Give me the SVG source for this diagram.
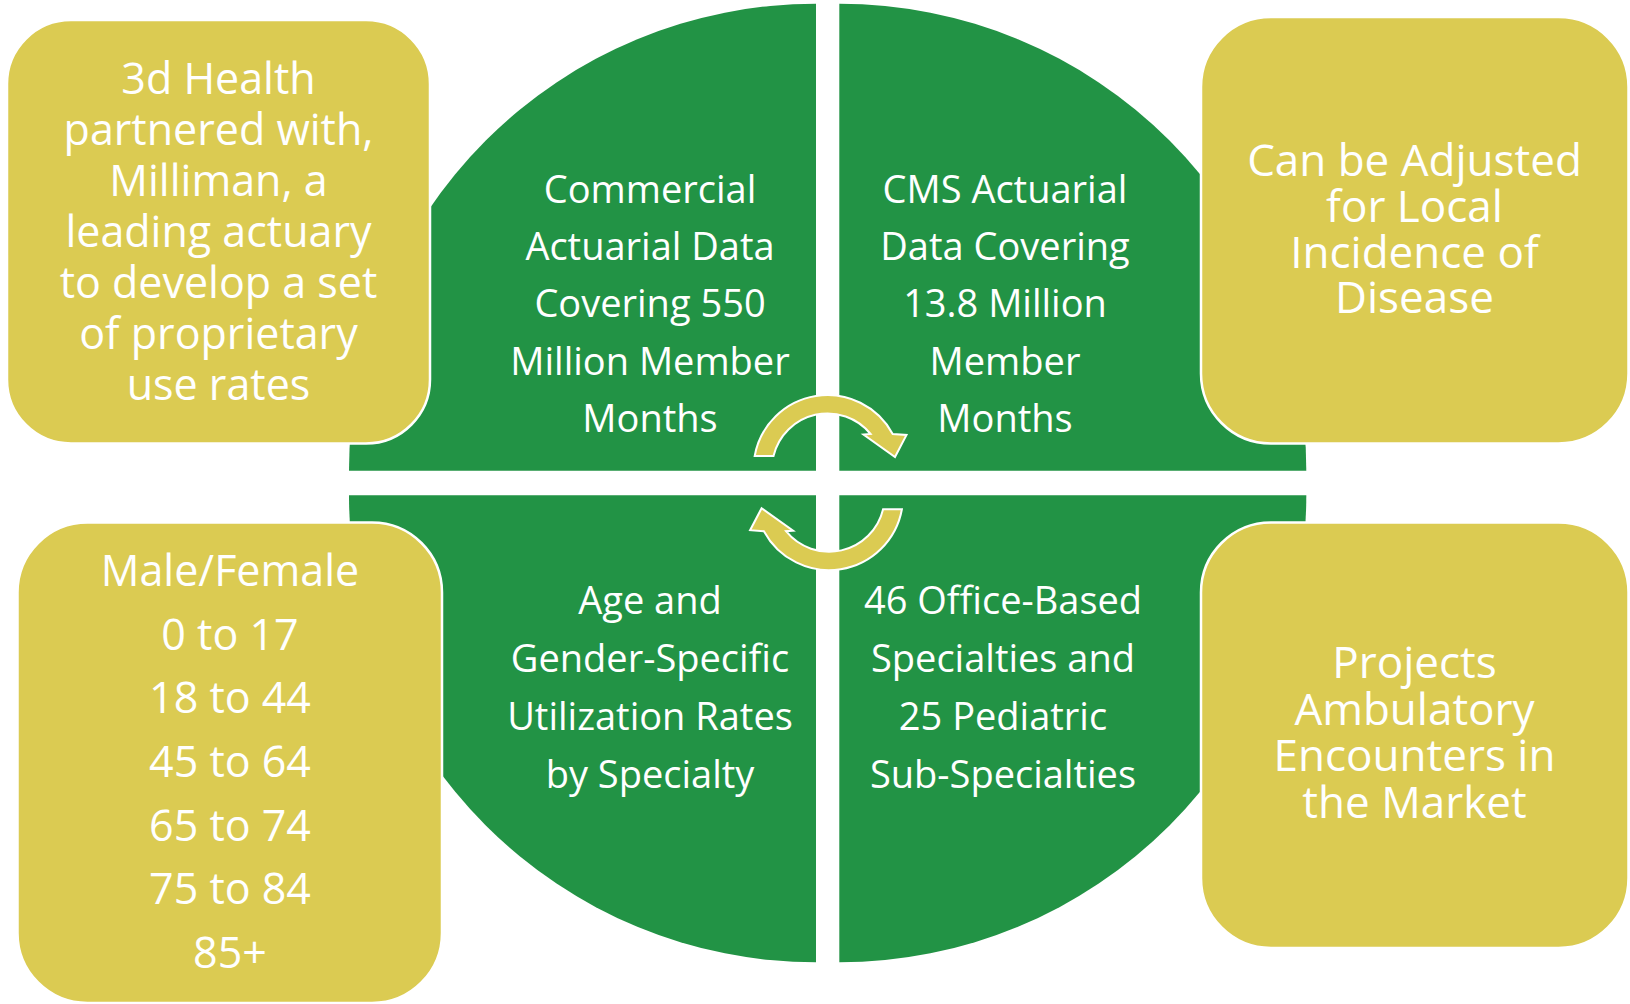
<svg xmlns="http://www.w3.org/2000/svg" width="1630" height="1004" viewBox="0 0 1630 1004">
  <style>
    .pie { fill: #229345; }
    .box { fill: #DBCB52; stroke: #FFFFFF; stroke-width: 2.5; }
    .arrow { fill: #DBCB52; stroke: #FFFFFF; stroke-width: 2; stroke-linejoin: miter; }
    text { font-family: "Open Sans", "Noto Sans", "Liberation Sans", sans-serif; fill: #FFFFFF; text-anchor: middle; }
    .g { font-size: 38px; }
    .y1 { font-size: 43px; }
    .y2 { font-size: 44px; }
  </style>
  <rect x="0" y="0" width="1630" height="1004" fill="#FFFFFF"/>

  <g id="quadrant-top-left">
    <path class="pie" d="M 816,470.7 L 349,470.7 A 467 467 0 0 1 816,3.7 Z"/>
    <text class="g" x="650" y="203">Commercial</text>
    <text class="g" x="650" y="260">Actuarial Data</text>
    <text class="g" x="650" y="317">Covering 550</text>
    <text class="g" x="650" y="374.5">Million Member</text>
    <text class="g" x="650" y="432">Months</text>
  </g>
  <g id="quadrant-top-right">
    <path class="pie" d="M 839.3,470.7 L 839.3,3.7 A 467 467 0 0 1 1306.3,470.7 Z"/>
    <text class="g" x="1005" y="203">CMS Actuarial</text>
    <text class="g" x="1005" y="260">Data Covering</text>
    <text class="g" x="1005" y="317">13.8 Million</text>
    <text class="g" x="1005" y="374.5">Member</text>
    <text class="g" x="1005" y="432">Months</text>
  </g>
  <g id="quadrant-bottom-left">
    <path class="pie" d="M 816,495.3 L 816,962.3 A 467 467 0 0 1 349,495.3 Z"/>
    <text class="g" x="650" y="614">Age and</text>
    <text class="g" x="650" y="672">Gender-Specific</text>
    <text class="g" x="650" y="730">Utilization Rates</text>
    <text class="g" x="650" y="788">by Specialty</text>
  </g>
  <g id="quadrant-bottom-right">
    <path class="pie" d="M 839.3,495.3 L 1306.3,495.3 A 467 467 0 0 1 839.3,962.3 Z"/>
    <text class="g" x="1003" y="614">46 Office-Based</text>
    <text class="g" x="1003" y="672">Specialties and</text>
    <text class="g" x="1003" y="730">25 Pediatric</text>
    <text class="g" x="1003" y="788">Sub-Specialties</text>
  </g>

  <g id="connectors">
    <path id="arrow-top" class="arrow" d="M 754.7,456 A 74 74 0 0 1 892.7,434 L 906.5,435 L 895,457 L 863.5,434.5 L 870.6,434 A 55.5 55.5 0 0 0 773.5,456 Z"/>
    <path id="arrow-bottom" class="arrow" transform="rotate(180 828.3 482.6)" d="M 754.7,456 A 74 74 0 0 1 892.7,434 L 906.5,435 L 895,457 L 863.5,434.5 L 870.6,434 A 55.5 55.5 0 0 0 773.5,456 Z"/>
  </g>

  <g id="box-top-left">
    <rect class="box" x="7" y="20" width="423" height="423.5" rx="64" ry="64"/>
    <text class="y1" x="218.5" y="93.5">3d Health</text>
    <text class="y1" x="218.5" y="144.6">partnered with,</text>
    <text class="y1" x="218.5" y="195.7">Milliman, a</text>
    <text class="y1" x="218.5" y="246.8">leading actuary</text>
    <text class="y1" x="218.5" y="297.9">to develop a set</text>
    <text class="y1" x="218.5" y="349">of proprietary</text>
    <text class="y1" x="218.5" y="400.1">use rates</text>
  </g>
  <g id="box-top-right">
    <rect class="box" x="1201" y="17" width="427.5" height="426.5" rx="70" ry="70"/>
    <text class="y2" x="1414.5" y="176">Can be Adjusted</text>
    <text class="y2" x="1414.5" y="221.8">for Local</text>
    <text class="y2" x="1414.5" y="267.6">Incidence of</text>
    <text class="y2" x="1414.5" y="313.4">Disease</text>
  </g>
  <g id="box-bottom-left">
    <rect class="box" x="17.5" y="522.5" width="424.5" height="480.5" rx="70" ry="70"/>
    <text class="y1" x="230" y="585.8">Male/Female</text>
    <text class="y1" x="230" y="649.5">0 to 17</text>
    <text class="y1" x="230" y="713.2">18 to 44</text>
    <text class="y1" x="230" y="776.9">45 to 64</text>
    <text class="y1" x="230" y="840.6">65 to 74</text>
    <text class="y1" x="230" y="904.3">75 to 84</text>
    <text class="y1" x="230" y="968">85+</text>
  </g>
  <g id="box-bottom-right">
    <rect class="box" x="1201" y="522.5" width="427.5" height="425.5" rx="70" ry="70"/>
    <text class="y2" x="1414.5" y="678.4">Projects</text>
    <text class="y2" x="1414.5" y="724.8">Ambulatory</text>
    <text class="y2" x="1414.5" y="771.2">Encounters in</text>
    <text class="y2" x="1414.5" y="817.6">the Market</text>
  </g>
</svg>
